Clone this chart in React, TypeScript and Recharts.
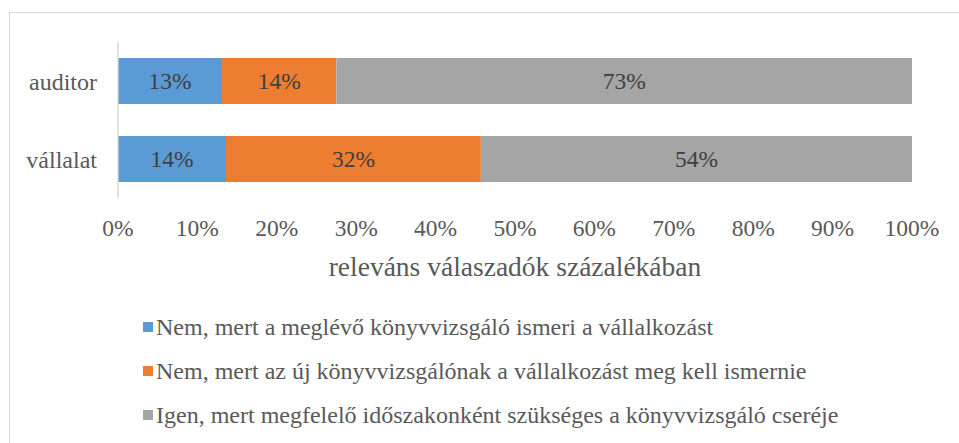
import { BarChart, Bar, XAxis, YAxis, Legend, LabelList } from 'recharts'

const categories = ['auditor', 'vállalat']
const seriesNames = [
    'Nem, mert a meglévő könyvvizsgáló ismeri a vállalkozást',
    'Nem, mert az új könyvvizsgálónak a vállalkozást meg kell ismernie',
    'Igen, mert megfelelő időszakonként szükséges a könyvvizsgáló cseréje',
]
const existing = [13.1, 13.6]
const mustLearn = [14.4, 32.1]
const rotate = [72.5, 54.3]
const xTicks = [0, 10, 20, 30, 40, 50, 60, 70, 80, 90, 100]
const colors = ['#5B9BD5', '#ED7D31', '#A5A5A5']
const keys = ['existing', 'mustLearn', 'rotate']

const data = categories.map((name, i) => ({
    name,
    existing: existing[i],
    mustLearn: mustLearn[i],
    rotate: rotate[i],
}))

const font = 'Liberation Serif'
const textColor = '#595959'

const LegendBox = () => (
    <div style={{ height: 132, fontFamily: font, fontSize: 24, color: textColor }}>
        {seriesNames.map((s, i) => (
            <div key={s} style={{ height: 44, display: 'flex', alignItems: 'center', whiteSpace: 'nowrap' }}>
                <span style={{ width: 10, height: 10, background: colors[i], marginRight: 3, display: 'inline-block' }} />
                {s}
            </div>
        ))}
    </div>
)

export default function App() {
    return (
        <div style={{ position: 'absolute', left: 0, top: 0, width: 959, height: 443, background: '#fff', overflow: 'hidden', fontFamily: font }}>
            <div
                style={{
                    position: 'absolute',
                    left: 9,
                    top: 12,
                    width: 980,
                    height: 460,
                    border: '1px solid #d9d9d9',
                }}
            />
            <BarChart
                width={959}
                height={443}
                data={data}
                layout="vertical"
                barCategoryGap={16}
                margin={{ top: 42, right: 47, left: 0, bottom: 0 }}
                style={{ position: 'absolute', left: 0, top: 0, fontFamily: font }}
            >
                <XAxis
                    type="number"
                    domain={[0, 100]}
                    ticks={xTicks}
                    tickFormatter={(v) => `${v}%`}
                    axisLine={false}
                    tickLine={false}
                    tickSize={0}
                    tickMargin={21}
                    height={113}
                    interval={0}
                    tick={{ fill: textColor, fontSize: 23.5, fontFamily: font }}
                    label={{
                        value: 'releváns válaszadók százalékában',
                        position: 'insideTop',
                        offset: 58,
                        fill: textColor,
                        fontSize: 27.5,
                        fontFamily: font,
                    }}
                />
                <YAxis
                    type="category"
                    dataKey="name"
                    width={118}
                    axisLine={{ stroke: '#d9d9d9', strokeWidth: 1.5 }}
                    tickLine={false}
                    tickSize={0}
                    tickMargin={21}
                    tick={{ fill: textColor, fontSize: 24, fontFamily: font }}
                />
                <Legend
                    verticalAlign="bottom"
                    content={<LegendBox />}
                    wrapperStyle={{ left: 143, top: 305, width: 800, bottom: 'auto' }}
                />
                {keys.map((k, i) => (
                    <Bar key={k} dataKey={k} name={seriesNames[i]} stackId="a" fill={colors[i]} isAnimationActive={false}>
                        <LabelList
                            dataKey={k}
                            position="center"
                            formatter={(v: number) => `${Math.round(v)}%`}
                            fill="#404040"
                            fontSize={23.5}
                            fontFamily={font}
                        />
                    </Bar>
                ))}
            </BarChart>
        </div>
    )
}
